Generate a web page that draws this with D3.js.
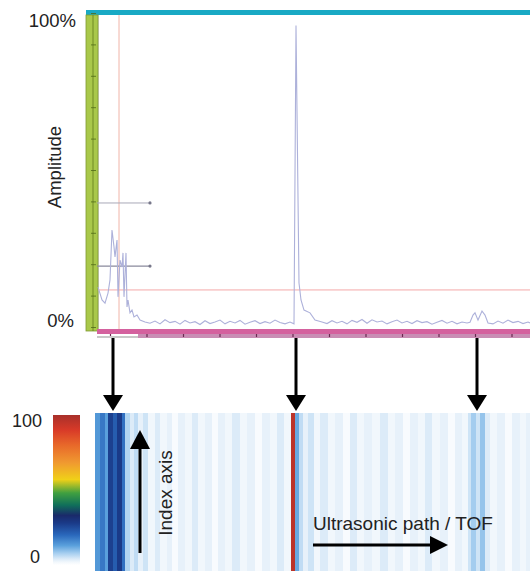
<!DOCTYPE html>
<html>
<head>
<meta charset="utf-8">
<script src="https://cdn.jsdelivr.net/npm/d3@7"></script>
<style>
  body { margin: 0; background: #fff; }
  text { font-family: "Liberation Sans", Arial, sans-serif; fill: #222; }
</style>
</head>
<body>
<div id="chart"></div>
<script>
// A-scan (time of flight in samples, amplitude in %)
var ascanTof = [0, 4, 7, 10, 12, 14, 16, 17, 19, 20, 22, 24, 25, 26, 28, 29, 30, 32, 34, 36, 39, 42, 47,
  52, 57, 62, 67, 72, 77, 82, 87, 92, 97, 102, 107, 112, 117, 122, 127, 132, 137, 142, 147, 152, 157,
  162, 167, 172, 177, 182, 187, 192, 196, 198, 201, 203, 206, 212, 217, 224, 229, 234, 239, 244, 249,
  254, 259, 264, 269, 274, 279, 284, 289, 294, 299, 304, 309, 314, 319, 324, 329, 334, 339, 344, 349,
  354, 359, 364, 369, 372, 375, 377, 380, 384, 387, 390, 395, 400, 405, 410, 415, 420, 425, 430, 432];
var ascanAmp = [12.7, 8.6, 7.6, 10.8, 15.0, 30.9, 25.5, 22.3, 27.7, 9.6, 21.3, 19.1, 23.6, 9.6, 23.6, 6.4, 8.6, 4.5, 5.4, 3.2, 3.8, 2.2, 1.6,
  1.2, 1.9, 1.0, 2.3, 1.4, 1.8, 0.9, 2.1, 1.3, 1.7, 0.8, 2.0, 1.1, 1.6, 2.2, 1.0, 1.8, 1.3, 2.1, 0.9, 1.5, 2.0,
  1.1, 1.7, 1.2, 2.2, 1.4, 1.0, 1.6, 1.0, 96.0, 14.0, 8.6, 5.4, 4.5, 2.2, 1.6, 1.1, 2.0, 1.3, 1.8, 1.0,
  2.1, 1.5, 2.4, 1.2, 2.3, 1.6, 1.9, 1.0, 1.7, 2.2, 1.3, 1.8, 1.1, 2.0, 1.4, 1.7, 0.9, 1.5, 2.1, 1.2,
  1.8, 1.0, 1.6, 1.3, 1.5, 3.8, 4.5, 2.2, 5.1, 3.8, 1.3, 1.0, 1.9, 1.2, 2.2, 1.4, 1.8, 1.1, 1.6, 1.3];

// gates (amplitude level %, tof end)
var gateLevels = [39.5, 19.4];
var gateEnd = 52;
var redGateLevel = 11.8;
var redCursorTof = 21;

// B-scan stripes along TOF (start tof of each stripe, amplitude %)
var bscanTof = [-3, 2, 7, 10, 15, 19, 24, 27, 32, 36, 40, 45, 50, 57, 62, 69, 74, 80, 87, 94, 100, 107, 114, 120, 127,
  134, 142, 149, 157, 164, 172, 179, 186, 193, 197, 201, 205, 210, 216, 222, 230, 237, 245, 252, 259, 266, 274,
  282, 290, 297, 305, 312, 320, 327, 334, 342, 350, 357, 364, 370, 373, 378, 382, 387, 392, 399, 407, 414, 422, 428];
var bscanAmp = [14, 18, 13, 27, 22, 28, 19, 7, 4, 6, 3, 5, 2, 4, 2, 3, 1, 3, 2, 4, 2, 3, 1, 3, 2,
  4, 2, 3, 1, 3, 2, 4, 2, 96, 12, 6, 3, 5, 2, 4, 2, 3, 1, 4, 2, 3, 2,
  4, 2, 3, 1, 3, 2, 4, 2, 3, 1, 3, 2, 5, 8, 5, 9, 4, 2, 3, 1, 3, 2, 3];
var tofMax = 432;

// colour scale (value %, colour)
var cbValues = [0, 2, 4, 8, 13, 20, 28, 33, 40, 48, 57, 68, 80, 90, 100];
var cbColors = ["#ffffff", "#f1f7fc", "#dcebf8", "#a4cdef", "#5aa0dc", "#2a68bc", "#1a3a88", "#1a2a6a", "#10705a",
  "#40a040", "#f0d018", "#f09a30", "#e8682a", "#d83a28", "#a8302a"];

// arrows pointing from the A-scan to the B-scan
var arrowTof = [15, 198, 379];

var width = 530, height = 571;

var svg = d3.select("#chart").append("svg")
  .attr("width", width)
  .attr("height", height)
  .attr("viewBox", [0, 0, width, height]);

var x = d3.scaleLinear().domain([0, tofMax]).range([98, 530]);
var y = d3.scaleLinear().domain([0, 100]).range([327, 13]);
var heat = d3.scaleLinear().domain(cbValues).range(cbColors).clamp(true);

// ---------- A-scan ----------
// top bar
svg.append("rect").attr("x", 86).attr("y", 10).attr("width", 444).attr("height", 5).attr("fill", "#19a9c4");

// plot left border
svg.append("line").attr("x1", 98.5).attr("x2", 98.5).attr("y1", 15).attr("y2", 330)
  .attr("stroke", "#d8d8d8");

// green amplitude ruler
svg.append("rect").attr("x", 86).attr("y", 15).attr("width", 12).attr("height", 316)
  .attr("fill", "#a9c84a").attr("stroke", "#7f9a32").attr("stroke-width", 0.8);
svg.append("line").attr("x1", 93).attr("x2", 93).attr("y1", 15).attr("y2", 331)
  .attr("stroke", "#6f8a22").attr("stroke-width", 1);

var ruler = svg.append("g").attr("transform", "translate(96,0)")
  .call(d3.axisLeft(y).tickValues(d3.range(0, 101, 10)).tickSize(5).tickFormat(""));
ruler.select(".domain").remove();
ruler.selectAll(".tick line").attr("stroke", "#4f6a18").attr("stroke-width", 0.8);

// red cursor and gate
svg.append("line").attr("x1", x(redCursorTof)).attr("x2", x(redCursorTof)).attr("y1", 15).attr("y2", 329)
  .attr("stroke", "#f0b4a8").attr("stroke-width", 1);
svg.append("line").attr("x1", 98).attr("x2", 530).attr("y1", y(redGateLevel)).attr("y2", y(redGateLevel))
  .attr("stroke", "#f4a8a8").attr("stroke-width", 1);

// gray gates
gateLevels.forEach(function (g, i) {
  svg.append("line").attr("x1", 97).attr("x2", x(gateEnd)).attr("y1", y(g)).attr("y2", y(g))
    .attr("stroke", i === 0 ? "#a8a8b8" : "#8a8a9c").attr("stroke-width", i === 0 ? 1 : 1.4);
  svg.append("circle").attr("cx", x(gateEnd)).attr("cy", y(g)).attr("r", 1.6).attr("fill", "#77778a");
});

// signal
var ascan = ascanTof.map(function (t, i) { return { tof: t, amp: ascanAmp[i] }; });
svg.append("path")
  .datum(ascan)
  .attr("fill", "none")
  .attr("stroke", "#adb1da")
  .attr("stroke-width", 1.1)
  .attr("d", d3.line().x(function (d) { return x(d.tof); }).y(function (d) { return y(d.amp); }));

// pink time axis
svg.append("rect").attr("x", 97).attr("y", 329).attr("width", 433).attr("height", 5).attr("fill", "#d4619e");
svg.append("rect").attr("x", 138).attr("y", 334).attr("width", 392).attr("height", 4).attr("fill", "#c98db4");
var tAxis = svg.append("g").attr("transform", "translate(0,334)")
  .call(d3.axisBottom(x).tickValues(d3.range(12, tofMax, 36.5)).tickSize(3).tickFormat(""));
tAxis.select(".domain").remove();
tAxis.selectAll(".tick line").attr("stroke", "#6a2a50").attr("stroke-width", 1.2);
svg.append("line").attr("x1", 97).attr("x2", 138).attr("y1", 337).attr("y2", 337)
  .attr("stroke", "#c8c8c8").attr("stroke-width", 2);

// ---------- arrows ----------
function downArrow(cx, y0, y1) {
  svg.append("line").attr("x1", cx).attr("x2", cx).attr("y1", y0).attr("y2", y1 - 12)
    .attr("stroke", "#000").attr("stroke-width", 3);
  svg.append("path").attr("d", "M" + (cx - 10) + "," + (y1 - 16) + "L" + (cx + 10) + "," + (y1 - 16) + "L" + cx + "," + y1 + "Z")
    .attr("fill", "#000");
}
arrowTof.forEach(function (t) { downArrow(Math.round(x(t)), 338, 411); });

// ---------- B-scan ----------
var heatTop = 413, heatLeft = 95;
var stripes = bscanTof.map(function (t, i) {
  return { x0: i === 0 ? heatLeft : x(t), x1: i < bscanTof.length - 1 ? x(bscanTof[i + 1]) : x(tofMax), amp: bscanAmp[i] };
});
svg.append("g").selectAll("rect")
  .data(stripes)
  .join("rect")
  .attr("x", function (d) { return d.x0; })
  .attr("y", heatTop)
  .attr("width", function (d) { return d.x1 - d.x0 + 0.3; })
  .attr("height", height - heatTop)
  .attr("fill", function (d) { return heat(d.amp); });

// colour bar
var defs = svg.append("defs");
var grad = defs.append("linearGradient").attr("id", "cb").attr("x1", 0).attr("x2", 0).attr("y1", 1).attr("y2", 0);
grad.selectAll("stop").data(cbValues).join("stop")
  .attr("offset", function (d) { return d / 100; })
  .attr("stop-color", function (d, i) { return cbColors[i]; });
svg.append("rect").attr("x", 53).attr("y", 415).attr("width", 27).attr("height", 150).attr("fill", "url(#cb)");

svg.append("text").attr("x", 42).attr("y", 427).attr("text-anchor", "end").style("font-size", "18px").text("100");
svg.append("text").attr("x", 40).attr("y", 563).attr("text-anchor", "end").style("font-size", "18px").text("0");

// index axis arrow
svg.append("line").attr("x1", 140).attr("x2", 140).attr("y1", 553).attr("y2", 444)
  .attr("stroke", "#000").attr("stroke-width", 3);
svg.append("path").attr("d", "M130,449L150,449L140,430Z").attr("fill", "#000");
svg.append("text").attr("transform", "translate(172,493) rotate(-90)").attr("text-anchor", "middle")
  .style("font-size", "19px").text("Index axis");

// TOF arrow
svg.append("line").attr("x1", 313).attr("x2", 434).attr("y1", 545).attr("y2", 545)
  .attr("stroke", "#000").attr("stroke-width", 3);
svg.append("path").attr("d", "M430,536L430,554L448,545Z").attr("fill", "#000");
svg.append("text").attr("x", 313).attr("y", 530).style("font-size", "19px").text("Ultrasonic path / TOF");

// ---------- A-scan labels ----------
svg.append("text").attr("x", 76).attr("y", 27).attr("text-anchor", "end").style("font-size", "18.5px").text("100%");
svg.append("text").attr("x", 74).attr("y", 327).attr("text-anchor", "end").style("font-size", "18.5px").text("0%");
svg.append("text").attr("transform", "translate(61,167) rotate(-90)").attr("text-anchor", "middle")
  .style("font-size", "18.5px").text("Amplitude");
</script>
</body>
</html>
